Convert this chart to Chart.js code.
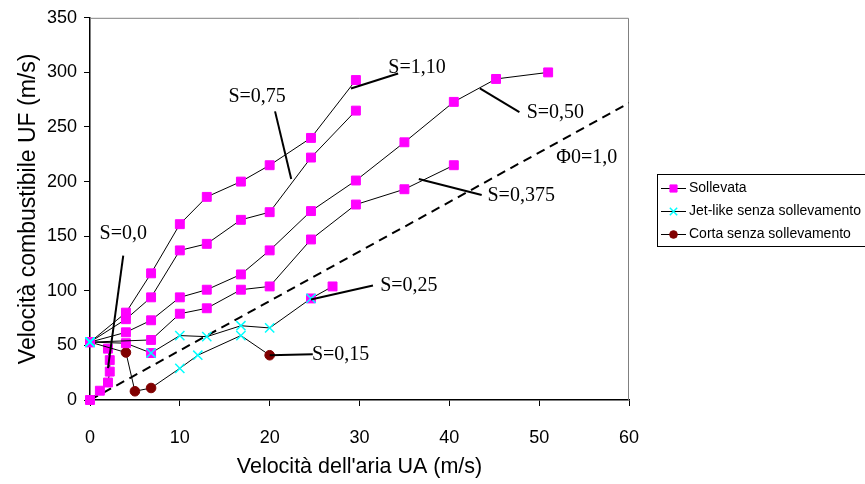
<!DOCTYPE html>
<html>
<head>
<meta charset="utf-8">
<script src="https://cdn.jsdelivr.net/npm/chart.js@4.4.0/dist/chart.umd.min.js"></script>
<style>
  html, body { margin: 0; padding: 0; background: #fff; }
  canvas { display: block; }
</style>
</head>
<body>
<canvas id="chart" width="865" height="484"></canvas>
<script>
// velocità dell'aria UA (m/s) / velocità combustibile UF (m/s) per serie S
// regime: S = sollevata, J = jet-like senza sollevamento, C = corta senza sollevamento, SJ = entrambi
const s110UA = [0, 4, 6.8, 10, 13, 16.8, 20, 24.6, 29.6];
const s110UF = [53, 80, 116, 161, 186, 200, 215, 240, 293];
const s110Reg = ['SJ', 'S', 'S', 'S', 'S', 'S', 'S', 'S', 'S'];

const s075UA = [0, 4, 6.8, 10, 13, 16.8, 20, 24.6, 29.6];
const s075UF = [53, 74, 94, 137, 143, 165, 172, 222, 265];
const s075Reg = ['SJ', 'S', 'S', 'S', 'S', 'S', 'S', 'S', 'S'];

const s050UA = [0, 4, 6.8, 10, 13, 16.8, 20, 24.6, 29.6, 35, 40.5, 45.2, 51];
const s050UF = [53, 62, 73, 94, 101, 115, 137, 173, 201, 236, 273, 294, 300];
const s050Reg = ['SJ', 'S', 'S', 'S', 'S', 'S', 'S', 'S', 'S', 'S', 'S', 'S', 'S'];

const s0375UA = [0, 6.8, 10, 13, 16.8, 20, 24.6, 29.6, 35, 40.5];
const s0375UF = [53, 55, 79, 84, 101, 104, 147, 179, 193, 215];
const s0375Reg = ['SJ', 'S', 'S', 'S', 'S', 'S', 'S', 'S', 'S', 'S'];

const s025UA = [0, 4, 6.8, 10, 13, 16.8, 20, 24.6, 27];
const s025UF = [53, 52, 43, 59, 58, 68, 66, 93, 104];
const s025Reg = ['SJ', 'S', 'SJ', 'J', 'J', 'J', 'J', 'SJ', 'S'];

const s015UA = [0, 4, 5, 6.8, 10, 12, 16.8, 20];
const s015UF = [53, 43.5, 8, 11, 29, 41, 59, 41];
const s015Reg = ['SJ', 'C', 'C', 'C', 'J', 'J', 'J', 'C'];

const s000UA = [0, 1.1, 2, 2.2, 2.2, 2];
const s000UF = [0, 8.5, 16, 26, 36.5, 47];
const s000Reg = ['S', 'S', 'S', 'S', 'S', 'S'];

// retta Φ0 = 1,0
const phiUA = [0, 60];
const phiUF = [0, 272];

const xTicks = [0, 10, 20, 30, 40, 50, 60];
const yTicks = [0, 50, 100, 150, 200, 250, 300, 350];

const legendLabels = ['Sollevata', 'Jet-like senza sollevamento', 'Corta senza sollevamento'];

// etichette (testo in coordinate dati, linea di richiamo da/a)
const notes = [
    { text: 'S=1,10', at: [36.4, 304.5], from: [29.05, 285.3], to: [34.3, 299] },
    { text: 'S=0,75', at: [18.6, 278], from: [20.6, 264.3], to: [22.4, 202.4] },
    { text: 'S=0,50', at: [51.8, 263.4], from: [43.4, 285.3], to: [47.8, 263.7] },
    { text: 'Φ0=1,0', at: [55.3, 221.5] },
    { text: 'S=0,375', at: [48, 187], from: [36.6, 202.4], to: [43.6, 187.8] },
    { text: 'S=0,25', at: [35.5, 104.8], from: [24.6, 92], to: [31.5, 104.8] },
    { text: 'S=0,15', at: [27.9, 41], from: [20, 41], to: [24.8, 41.9] },
    { text: 'S=0,0', at: [3.7, 152.2], from: [3.7, 132.2], to: [2.0, 29.2] }
];

const regimeStyle = {
    S: { pointStyle: 'rect', radius: 6.3, color: '#ff00ff', width: 1 },
    J: { pointStyle: 'crossRot', radius: 6.5, color: '#00ffff', width: 1.5 },
    C: { pointStyle: 'circle', radius: 4.8, color: '#800000', width: 1 }
};

function baseRegime(r) {
    return r === 'SJ' ? 'S' : r;
}

function toPoints(ua, uf) {
    return ua.map((x, i) => ({ x: x, y: uf[i] }));
}

function lineDataset(ua, uf, reg) {
    return {
        data: toPoints(ua, uf),
        showLine: true,
        borderColor: '#000',
        borderWidth: 1,
        clip: false,
        pointStyle: reg.map(r => regimeStyle[baseRegime(r)].pointStyle),
        pointRadius: reg.map(r => regimeStyle[baseRegime(r)].radius),
        pointBackgroundColor: reg.map(r => regimeStyle[baseRegime(r)].color),
        pointBorderColor: reg.map(r => regimeStyle[baseRegime(r)].color),
        pointBorderWidth: reg.map(r => regimeStyle[baseRegime(r)].width)
    };
}

const series = [
    [s110UA, s110UF, s110Reg],
    [s075UA, s075UF, s075Reg],
    [s050UA, s050UF, s050Reg],
    [s0375UA, s0375UF, s0375Reg],
    [s025UA, s025UF, s025Reg],
    [s015UA, s015UF, s015Reg],
    [s000UA, s000UF, s000Reg]
];

// punti in entrambi i regimi: croce sopra il quadrato
const overlay = [];
series.forEach(([ua, uf, reg]) => {
    reg.forEach((r, i) => {
        if (r === 'SJ') overlay.push({ x: ua[i], y: uf[i] });
    });
});

const datasets = [
    {
        data: overlay,
        showLine: false,
        clip: false,
        pointStyle: 'crossRot',
        pointRadius: regimeStyle.J.radius,
        pointBorderColor: regimeStyle.J.color,
        pointBorderWidth: regimeStyle.J.width
    },
    ...series.map(s => lineDataset(s[0], s[1], s[2])),
    {
        data: toPoints(phiUA, phiUF),
        showLine: true,
        borderColor: '#000',
        borderWidth: 2,
        borderDash: [9, 6],
        pointRadius: 0
    }
];

const annotationPlugin = {
    id: 'extras',
    beforeDatasetsDraw(chart) {
        const { ctx, chartArea: a } = chart;
        ctx.save();
        ctx.strokeStyle = '#808080';
        ctx.lineWidth = 1;
        ctx.beginPath();
        ctx.moveTo(a.left, a.top + 0.5);
        ctx.lineTo(a.right - 0.5, a.top + 0.5);
        ctx.lineTo(a.right - 0.5, a.bottom);
        ctx.stroke();
        ctx.restore();
    },
    afterDatasetsDraw(chart) {
        const { ctx } = chart;
        const xs = chart.scales.x, ys = chart.scales.y;
        ctx.save();
        ctx.strokeStyle = '#000';
        ctx.lineWidth = 2;
        ctx.fillStyle = '#000';
        ctx.font = '20px "Liberation Serif", "Times New Roman", serif';
        ctx.textAlign = 'center';
        ctx.textBaseline = 'middle';
        notes.forEach(n => {
            if (n.from) {
                ctx.beginPath();
                ctx.moveTo(xs.getPixelForValue(n.from[0]), ys.getPixelForValue(n.from[1]));
                ctx.lineTo(xs.getPixelForValue(n.to[0]), ys.getPixelForValue(n.to[1]));
                ctx.stroke();
            }
        });
        notes.forEach(n => {
            ctx.fillText(n.text, xs.getPixelForValue(n.at[0]), ys.getPixelForValue(n.at[1]));
        });
        ctx.restore();
    },
    afterDraw(chart) {
        const { ctx } = chart;
        const styles = [regimeStyle.S, regimeStyle.J, regimeStyle.C];
        ctx.save();
        ctx.strokeStyle = '#000';
        ctx.lineWidth = 1;
        ctx.strokeRect(657.5, 174.5, 240, 72);
        ctx.font = '14px "Liberation Sans", Arial, sans-serif';
        ctx.textAlign = 'left';
        ctx.textBaseline = 'middle';
        legendLabels.forEach((label, i) => {
            const y = 188 + i * 23;
            ctx.strokeStyle = '#000';
            ctx.lineWidth = 1;
            ctx.beginPath();
            ctx.moveTo(661, y + 0.5);
            ctx.lineTo(686, y + 0.5);
            ctx.stroke();
            const st = styles[i];
            ctx.fillStyle = st.color;
            ctx.strokeStyle = st.color;
            ctx.lineWidth = st.width;
            Chart.helpers.drawPoint(ctx, {
                pointStyle: st.pointStyle,
                radius: st.radius * 0.8,
                borderWidth: st.width,
                rotation: 0
            }, 673.5, y + 0.5);
            ctx.fillStyle = '#000';
            ctx.fillText(label, 689, y);
        });
        ctx.restore();
    }
};

const axisFont = { family: '"Liberation Sans", Arial, sans-serif', size: 18 };

new Chart(document.getElementById('chart'), {
    type: 'scatter',
    data: { datasets: datasets },
    plugins: [annotationPlugin],
    options: {
        responsive: false,
        animation: false,
        layout: { padding: { left: 0, top: 16, right: 236, bottom: 0 } },
        plugins: {
            legend: { display: false },
            tooltip: { enabled: false }
        },
        scales: {
            x: {
                type: 'linear',
                min: 0,
                max: 60,
                afterBuildTicks(scale) {
                    scale.ticks = xTicks.map(v => ({ value: v }));
                },
                afterFit(scale) {
                    scale.height = 84;
                },
                ticks: { color: '#000', font: axisFont, padding: 21 },
                grid: { drawOnChartArea: false, drawTicks: true, tickLength: 6, color: '#000' },
                border: { color: '#000', width: 1.5 },
                title: {
                    display: true,
                    text: "Velocità dell'aria UA (m/s)",
                    color: '#000',
                    font: { family: '"Liberation Sans", Arial, sans-serif', size: 21.5 },
                    padding: { top: 0, bottom: 4 }
                }
            },
            y: {
                type: 'linear',
                min: 0,
                max: 350,
                afterBuildTicks(scale) {
                    scale.ticks = yTicks.map(v => ({ value: v }));
                },
                afterFit(scale) {
                    scale.width = 90;
                },
                ticks: { color: '#000', font: axisFont, padding: 7 },
                grid: { drawOnChartArea: false, drawTicks: true, tickLength: 6, color: '#000' },
                border: { color: '#000', width: 1.5 },
                title: {
                    display: true,
                    text: 'Velocità combustibile UF (m/s)',
                    color: '#000',
                    font: { family: '"Liberation Sans", Arial, sans-serif', size: 23 },
                    padding: { top: 15, bottom: 0 }
                }
            }
        }
    }
});
</script>
</body>
</html>
